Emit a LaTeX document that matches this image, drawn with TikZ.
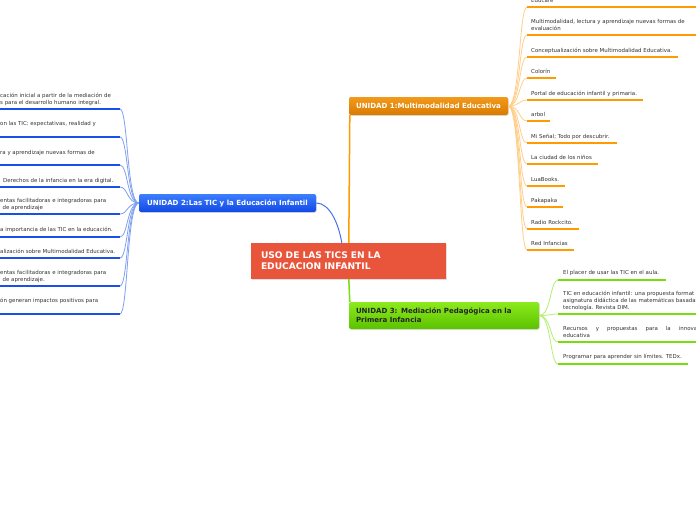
\documentclass[tikz,border=0pt]{standalone}
\usepackage{fontspec}
\setmainfont{DejaVu Sans}
\usetikzlibrary{shadows,calc}
\definecolor{leaftext}{HTML}{333333}
\definecolor{oline}{HTML}{FF9A00}
\definecolor{ocon}{HTML}{FFCF8A}
\definecolor{bline}{HTML}{1A4FE8}
\definecolor{bcon}{HTML}{7F9FF0}
\definecolor{gline}{HTML}{77DD11}
\definecolor{gcon}{HTML}{B5EE70}
\definecolor{otop}{HTML}{F29A1C}
\definecolor{obot}{HTML}{D97A00}
\definecolor{btop}{HTML}{3D7EFF}
\definecolor{bbot}{HTML}{1148E4}
\definecolor{gtop}{HTML}{8CEB1C}
\definecolor{gbot}{HTML}{5BC200}
\definecolor{cred}{HTML}{E8553B}
\tikzset{
  leaf/.style={anchor=base west, inner sep=0pt, font=\fontsize{5.45}{6.6}\selectfont, text=leaftext, align=left},
  oul/.style={draw=oline, line width=2pt},
  ocn/.style={draw=ocon, line width=0.8pt},
  bul/.style={draw=bline, line width=2pt},
  bcn/.style={draw=bcon, line width=0.8pt},
  gul/.style={draw=gline, line width=2pt},
  gcn/.style={draw=gcon, line width=0.8pt},
  ubox/.style={rounded corners=2pt, inner sep=0pt, font=\fontsize{7.05}{9}\bfseries\selectfont,
     drop shadow={opacity=0.25, shadow xshift=0.8pt, shadow yshift=-0.8pt}},
}
\begin{document}
\begin{tikzpicture}[x=1pt,y=-1pt]
\useasboundingbox (0,0) rectangle (696,520);
\fill[white] (0,0) rectangle (696,520);

% central topic
\node[inner sep=0pt, fill=cred, minimum width=195pt, minimum height=36pt, text width=175pt, align=left,
      text=white, font=\fontsize{9.1}{11}\bfseries\selectfont,
      drop shadow={opacity=0.25, shadow xshift=0.8pt, shadow yshift=-0.8pt}]
      (c) at (348.5,261) {USO DE LAS TICS EN LA\\EDUCACION INFANTIL};

% main branches
\node[ubox, top color=otop, bottom color=obot, text=white, minimum width=159pt, minimum height=18pt]
      (u1) at (428.5,106) {UNIDAD 1:Multimodalidad Educativa};
\node[ubox, top color=btop, bottom color=bbot, text=white, minimum width=177pt, minimum height=18pt]
      (u2) at (227.5,203) {UNIDAD 2:Las TIC y la Educación Infantil};
\node[ubox, top color=gtop, bottom color=gbot, text=black!85, minimum width=190pt, minimum height=27pt,
      text width=176pt, align=left]
      (u3) at (444,315.5) {UNIDAD 3: Mediación Pedagógica en la\\Primera Infancia};

\draw[draw=bline!80, line width=1pt] (u2.east) .. controls +(14,0) and +(-3,-18) .. ($(c.north west)+(91,0)$);
\draw[draw=oline, line width=1.5pt] ($(u1.south west)+(1,0)$) -- ($(c.north west)+(98,0)$);
\draw[draw=gline, line width=1.5pt] ($(c.south west)+(98,0)$) -- ($(u3.north west)+(1,0)$);

% unit 1 leaves
\foreach \i/\yl/\xe/\yb/\txt in {
  1/7/696/2.5/{Educare},
  2/35/696/30/{Multimodalidad, lectura y aprendizaje nuevas formas de\\evaluación},
  3/57/678/52/{Conceptualización sobre Multimodalidad Educativa.},
  4/78/556/73/{Colorín},
  5/100/643/95/{Portal de educación infantil y primaria.},
  6/121/550/116/{arbol},
  7/143/617/138/{Mi Señal; Todo por descubrir.},
  8/164/598/159/{La ciudad de los niños},
  9/186/565/181/{LuaBooks.},
  10/207/563/202/{Pakapaka},
  11/229/579/224/{Radio Rockcito.},
  12/250/574/245/{Red Infancias}}{
  \coordinate (oa\i) at (527,\yl);
  \coordinate (ob\i) at (\xe,\yl);
  \node[leaf] (ot\i) at (531,\yb) {\txt};
  \draw[ocn] (u1.east) to[out=0,in=180,out distance=12pt,in distance=8pt] (oa\i);
  \draw[oul] (oa\i) -- (ob\i);
}

% unit 2 leaves
\foreach \i/\yl/\xs/\yb/\txt in {
  1/109/0/104/{cación inicial a partir de la mediación de\\s para el desarrollo humano integral.},
  2/137/0/125/{on las TIC: expectativas, realidad y},
  3/165/0/154/{ra y aprendizaje nuevas formas de},
  4/187/3/182/{Derechos de la infancia en la era digital.},
  5/214/0/209.5/{entas facilitadoras e integradoras para\\\hspace*{2.5pt}de aprendizaje},
  6/237/0/231/{a importancia de las TIC en la educación.},
  7/258/0/253/{alización sobre Multimodalidad Educativa.},
  8/286/0/281/{entas facilitadoras e integradoras para\\\hspace*{2.5pt}de aprendizaje.},
  9/314/0/302/{ón generan impactos positivos para}}{
  \coordinate (ba\i) at (0,\yl);
  \coordinate (bb\i) at (120,\yl);
  \node[leaf] (bt\i) at (\xs,\yb) {\txt};
  \draw[bcn] (u2.west) to[out=180,in=0,out distance=12pt,in distance=8pt] (bb\i);
  \draw[bul] (ba\i) -- (bb\i);
}

% unit 3 leaves
\foreach \i/\yl/\xe/\yb/\txt in {
  1/280/666/274/{El placer de usar las TIC en el aula.},
  2/314/696/309/{TIC en educación infantil: una propuesta format\\asignatura didáctica de las matemáticas basada\\tecnología. Revista DIM.},
  3/342/696/337/{\makebox[134pt][s]{Recursos y propuestas para la innova}\\educativa},
  4/364/688/358/{Programar para aprender sin límites. TEDx.}}{
  \coordinate (ga\i) at (558,\yl);
  \coordinate (gb\i) at (\xe,\yl);
  \node[leaf] (gt\i) at (563,\yb) {\txt};
  \draw[gcn] (u3.east) to[out=0,in=180,out distance=12pt,in distance=8pt] (ga\i);
  \draw[gul] (ga\i) -- (gb\i);
}
\end{tikzpicture}
\end{document}
